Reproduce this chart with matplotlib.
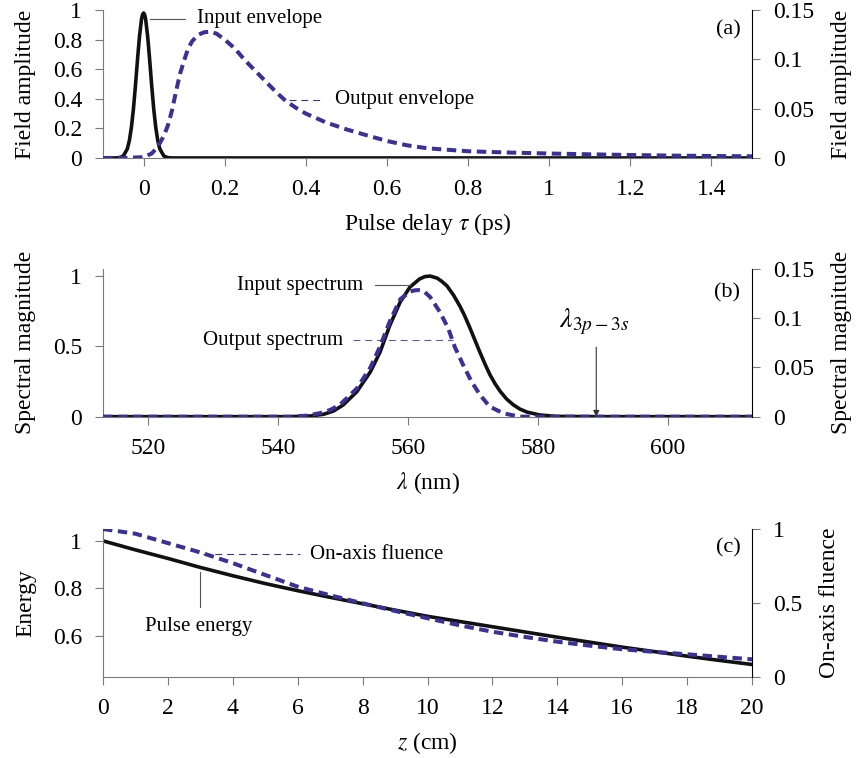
import numpy as np
import matplotlib
matplotlib.use('Agg')
import matplotlib.pyplot as plt

plt.rcParams['font.family'] = 'serif'
plt.rcParams['font.serif'] = ['Liberation Serif', 'DejaVu Serif']
plt.rcParams['mathtext.fontset'] = 'stix'
plt.rcParams['lines.scale_dashes'] = False

BLUE = '#3a3196'
GREY = '#7a7a7a'
FS = 17
FS_ANN = 15

# (a) pulse envelopes
tau_in = [-0.1, -0.07, -0.06, -0.05, -0.04, -0.035, -0.03, -0.025, -0.02, -0.015, -0.01, -0.005,
          -0.0025, 0.0, 0.0025, 0.005, 0.01, 0.015, 0.02, 0.025, 0.03, 0.035, 0.04, 0.05, 0.06,
          0.07, 1.5]
env_in = [0, 0, 0.002, 0.013, 0.062, 0.118, 0.207, 0.332, 0.49, 0.664, 0.824, 0.939,
          0.969, 0.98, 0.969, 0.939, 0.824, 0.664, 0.49, 0.332, 0.207, 0.118, 0.062, 0.013,
          0.002, 0, 0]
tau_out = [-0.1, -0.05, 0.0, 0.02, 0.03, 0.04, 0.05, 0.06, 0.07, 0.08, 0.09, 0.1, 0.11, 0.12,
           0.135, 0.15, 0.165, 0.18, 0.2, 0.225, 0.25, 0.275, 0.3, 0.325, 0.35, 0.375, 0.4,
           0.45, 0.5, 0.55, 0.6, 0.65, 0.7, 0.8, 0.9, 1.0, 1.1, 1.2, 1.3, 1.4, 1.5]
env_out = [0, 0, 0.0008, 0.0045, 0.009, 0.015, 0.0225, 0.033, 0.048, 0.0675, 0.0855, 0.099,
           0.111, 0.1185, 0.125, 0.1275, 0.128, 0.126, 0.12, 0.111, 0.099, 0.0885, 0.078,
           0.0675, 0.058, 0.051, 0.045, 0.036, 0.029, 0.023, 0.0172, 0.0128, 0.0098, 0.0068,
           0.0055, 0.0045, 0.0037, 0.003, 0.0024, 0.002, 0.0017]

# (b) spectra
lam_in = [513, 535, 541.8, 545, 547, 548.5, 550, 552.1, 554.2, 555.7, 557.2, 558.8, 560.3,
          561.8, 562.6, 563.4, 564.5, 565.2, 566.0, 567.0, 568.0, 568.7, 569.5, 570.3, 571.1,
          571.9, 572.6, 573.4, 574.2, 575.2, 576.2, 577.2, 578.3, 580.3, 582.9, 590, 613]
spec_in = [0, 0, 0, 0.005, 0.017, 0.04, 0.083, 0.177, 0.319, 0.461, 0.65, 0.816, 0.922,
           0.98, 0.996, 1.0, 0.985, 0.962, 0.93, 0.865, 0.785, 0.72, 0.635, 0.545, 0.455,
           0.37, 0.3, 0.235, 0.18, 0.125, 0.085, 0.055, 0.033, 0.012, 0.002, 0, 0]
lam_out = [513, 535, 542, 544.5, 546.5, 548, 549.5, 552.1, 554.2, 555.7, 557.2, 558.8, 560.3,
           561.0, 561.6, 562.4, 563.4, 564.9, 566.2, 567.2, 568.5, 569.8, 571.1, 572.6, 574.7,
           577.2, 580, 613]
spec_out = [0, 0, 0, 0.0011, 0.0037, 0.0068, 0.0121, 0.0286, 0.05, 0.0714, 0.0971, 0.1193,
            0.1271, 0.1283, 0.1286, 0.1276, 0.1216, 0.1064, 0.0896, 0.0709, 0.0524, 0.0354,
            0.022, 0.0101, 0.0034, 0, 0, 0]
lam_na = 589.0

# (c) propagation
z_cm = [0, 1, 2, 3, 4, 5, 6, 7, 8, 9, 10, 11, 12, 13, 14, 15, 16, 17, 18, 19, 20]
energy = [1.0, 0.962, 0.926, 0.888, 0.853, 0.82, 0.79, 0.762, 0.735, 0.708, 0.682, 0.66,
          0.638, 0.616, 0.594, 0.573, 0.552, 0.533, 0.514, 0.496, 0.479]
fluence = [1.0, 0.968, 0.905, 0.842, 0.77, 0.69, 0.611, 0.553, 0.499, 0.447, 0.398, 0.35,
           0.307, 0.272, 0.24, 0.213, 0.189, 0.171, 0.155, 0.138, 0.121]

ticks_a = [0, 0.2, 0.4, 0.6, 0.8, 1, 1.2, 1.4]
ticks_a_l = [0, 0.2, 0.4, 0.6, 0.8, 1]
ticks_a_r = [0, 0.05, 0.1, 0.15]
ticks_b = [520, 540, 560, 580, 600]
ticks_b_l = [0, 0.5, 1]
ticks_b_r = [0, 0.05, 0.1, 0.15]
ticks_c = list(range(0, 21, 2))
ticks_c_l = [0.6, 0.8, 1]
ticks_c_r = [0, 0.5, 1]


def fmt(v):
    return '%g' % v


def style(ax, tw, xt, yl, yr):
    for s in ['top', 'right']:
        ax.spines[s].set_visible(False)
    for s in ['top', 'left', 'bottom']:
        tw.spines[s].set_visible(False)
    ax.spines['left'].set_color(GREY)
    ax.spines['bottom'].set_color(GREY)
    tw.spines['right'].set_color('black')
    for a in (ax, tw):
        a.tick_params(direction='out', length=6, width=0.8, color=GREY,
                      labelsize=FS, pad=9)
    ax.set_xticks(xt, [fmt(v) for v in xt])
    ax.set_yticks(yl, [fmt(v) for v in yl])
    tw.set_yticks(yr, [fmt(v) for v in yr])


fig = plt.figure(figsize=(8.57, 7.58), dpi=100)
L, W = 0.1202, 0.7573

# ---- (a)
ax = fig.add_axes([L, 0.7916, W, 0.1952])
tw = ax.twinx()
ax.plot(tau_in, env_in, color='#111111', lw=2.6, solid_joinstyle='round')
tw.plot(tau_out, env_out, color=BLUE, lw=2.9, dashes=(6.8, 4.0))
ax.set_xlim(-0.1, 1.5)
ax.set_ylim(0, 1)
tw.set_ylim(0, 0.15)
style(ax, tw, ticks_a, ticks_a_l, ticks_a_r)
ax.set_xlabel(r'Pulse delay $\tau$ (ps)', fontsize=FS, labelpad=8)
ax.set_ylabel('Field amplitude', fontsize=FS, labelpad=12)
tw.set_ylabel('Field amplitude', fontsize=FS, labelpad=12)
ax.plot([0.017, 0.102], [0.94, 0.94], color='#555555', lw=0.8)
ax.text(0.132, 0.94, 'Input envelope', fontsize=FS_ANN, va='center', ha='left')
ax.plot([0.359, 0.444], [0.392, 0.392], color=BLUE, lw=0.8, dashes=(5, 3.5))
ax.text(0.471, 0.392, 'Output envelope', fontsize=FS_ANN, va='center', ha='left')
ax.text(0.963, 0.865, '(a)', fontsize=16, transform=ax.transAxes, ha='center', va='center')

# ---- (b)
ax = fig.add_axes([L, 0.4503, W, 0.1948])
tw = ax.twinx()
ax.plot(lam_in, spec_in, color='#111111', lw=2.6, solid_joinstyle='round')
tw.plot(lam_out, spec_out, color=BLUE, lw=2.9, dashes=(6.8, 4.0))
ax.set_xlim(513, 613)
ax.set_ylim(0, 1.05)
tw.set_ylim(0, 0.15)
style(ax, tw, ticks_b, ticks_b_l, ticks_b_r)
ax.set_xlabel(r'$\lambda$ (nm)', fontsize=FS, labelpad=8)
ax.set_ylabel('Spectral magnitude', fontsize=FS, labelpad=12)
tw.set_ylabel('Spectral magnitude', fontsize=FS, labelpad=12)
ax.plot([554.9, 560.3], [0.934, 0.934], color='#555555', lw=0.8)
ax.text(553.1, 0.934, 'Input spectrum', fontsize=FS_ANN, va='center', ha='right')
ax.plot([551.5, 566.9], [0.544, 0.544], color=BLUE, lw=0.8, dashes=(5, 3.5), alpha=0.8)
ax.text(550.0, 0.544, 'Output spectrum', fontsize=FS_ANN, va='center', ha='right')
ax.annotate('', xy=(lam_na, 0.0), xytext=(lam_na, 0.494),
            arrowprops=dict(arrowstyle='-|>', color='#333333', lw=0.8,
                            mutation_scale=9, shrinkA=0, shrinkB=0))
ax.text(lam_na - 0.4, 0.57, r'$\lambda_{3p-3s}$', fontsize=20, ha='center', va='bottom')
ax.text(0.961, 0.837, '(b)', fontsize=16, transform=ax.transAxes, ha='center', va='center')

# ---- (c)
ax = fig.add_axes([L, 0.1065, W, 0.1956])
tw = ax.twinx()
ax.plot(z_cm, energy, color='#111111', lw=2.6)
tw.plot(z_cm, fluence, color=BLUE, lw=2.9, dashes=(6.8, 4.0))
ax.set_xlim(0, 20)
ax.set_ylim(0.425, 1.05)
tw.set_ylim(0, 1)
style(ax, tw, ticks_c, ticks_c_l, ticks_c_r)
ax.set_xlabel(r'$z$ (cm)', fontsize=FS, labelpad=8)
ax.set_ylabel('Energy', fontsize=FS, labelpad=12)
tw.set_ylabel('On-axis fluence', fontsize=FS, labelpad=12)
ax.plot([3.08, 6.07], [0.944, 0.944], color=BLUE, lw=0.8, dashes=(5, 3.5))
ax.text(6.38, 0.944, 'On-axis fluence', fontsize=FS_ANN, va='center', ha='left')
ax.plot([3.0, 3.0], [0.869, 0.721], color='#555555', lw=0.8)
ax.text(2.96, 0.639, 'Pulse energy', fontsize=FS_ANN, va='center', ha='center')
ax.text(0.963, 0.872, '(c)', fontsize=16, transform=ax.transAxes, ha='center', va='center')

fig.savefig('out.png', dpi=100)
